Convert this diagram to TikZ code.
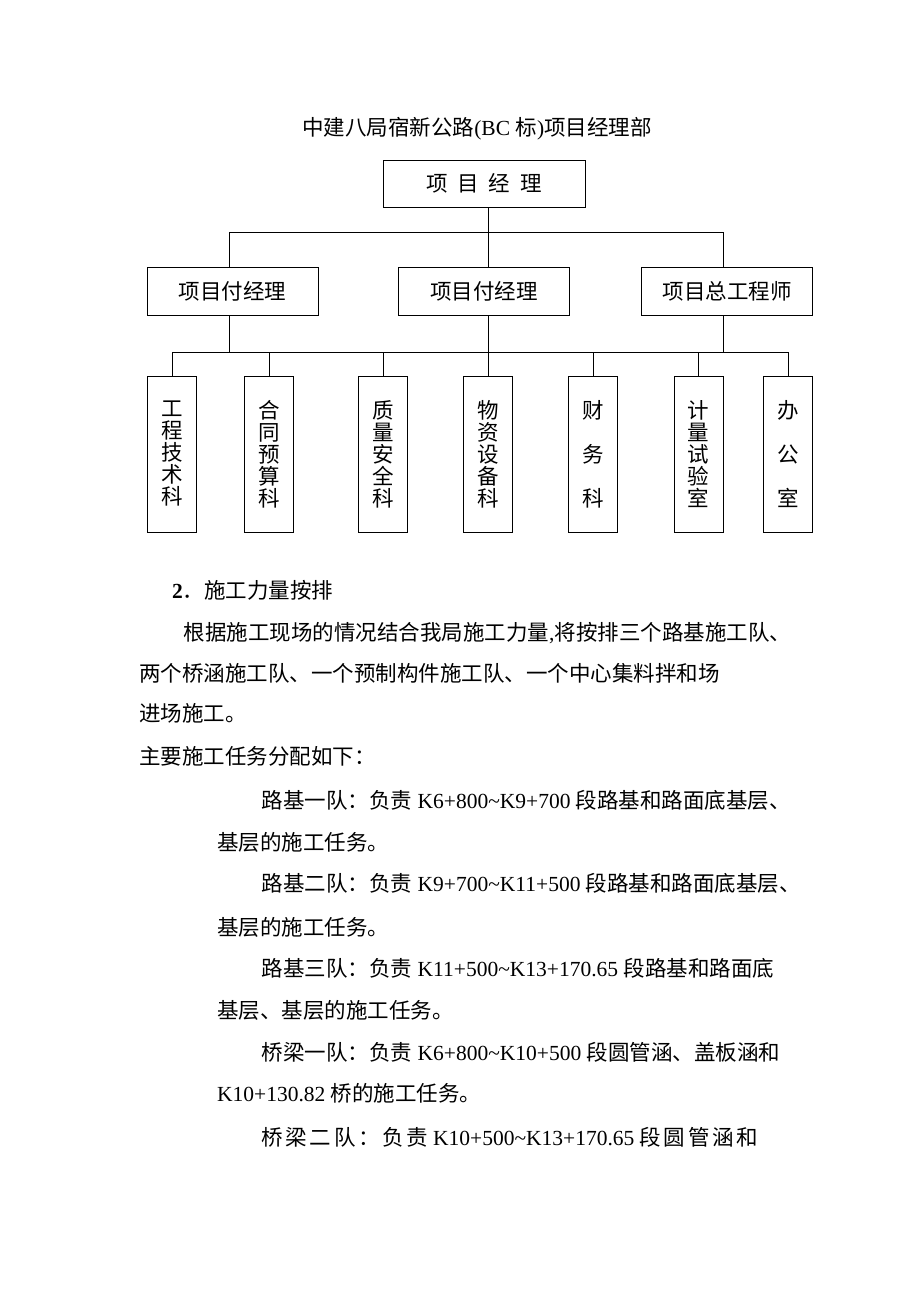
\documentclass[tikz,border=0pt]{standalone}
\usepackage{fontspec}
\setmainfont{Liberation Serif}
\newfontfamily\cjk{Noto Sans CJK SC}
\newfontfamily\cjkw[LetterSpace=12]{Noto Sans CJK SC}
\newcommand\lat[1]{{\rmfamily #1}}
\newcommand\fsz{\fontsize{21.5}{22}\selectfont}
\tikzset{
  txt/.style={anchor=base west, inner sep=0pt, font=\cjk\fsz},
  hbox/.style={draw, line width=1pt, minimum width=171pt, minimum height=48pt, inner sep=0pt, font=\cjk\fsz},
  vbox/.style={draw, line width=1pt, minimum width=49pt, minimum height=156pt, inner sep=0pt, align=center, font=\cjk\fsz},
  conn/.style={line width=1pt},
}
\begin{document}
\begin{tikzpicture}[x=1pt,y=-1pt]
\fill[white] (0,0) rectangle (920,1302);
\useasboundingbox (0,0) rectangle (920,1302);
% title
\node[anchor=base, inner sep=0pt, font=\cjk\fsz] (title) at (477,135) {中建八局宿新公路\lat{(BC }标\lat{)}项目经理部};
% boxes
\node[hbox, minimum width=202pt, minimum height=47pt] (pm) at (484,183.5) {项\hskip10pt 目\hskip10pt 经\hskip10pt 理};
\node[hbox] (p1) at (232.5,291.5) {项目付经理};
\node[hbox] (p2) at (484,291.5) {项目付经理};
\node[hbox] (p3) at (727,291.5) {项目总工程师};
\node[vbox] (d1) at (172,454) {工\\程\\技\\术\\科};
\node[vbox] (d2) at (269,454) {合\\同\\预\\算\\科};
\node[vbox] (d3) at (383,454) {质\\量\\安\\全\\科};
\node[vbox] (d4) at (488,454) {物\\资\\设\\备\\科};
\node[vbox] (d5) at (593,454) {财\\[22pt]务\\[22pt]科};
\node[vbox] (d6) at (698.5,454) {计\\量\\试\\验\\室};
\node[vbox] (d7) at (788,454) {办\\[22pt]公\\[22pt]室};
% connector helpers
\coordinate (xa) at (229,0);
\coordinate (xm) at (488,0);
\coordinate (xc) at (723,0);
\coordinate (bus1) at (0,232);
\coordinate (bus2) at (0,352);
\draw[conn] (pm.south -| xm) -- (p2.north -| xm);
\draw[conn] (p1.north -| xa) -- (xa |- bus1) -- (xc |- bus1) -- (p3.north -| xc);
\draw[conn] (p1.south -| xa) -- (xa |- bus2);
\draw[conn] (p3.south -| xc) -- (xc |- bus2);
\draw[conn] (p2.south -| xm) -- (d4.north);
\draw[conn] (d1.north) -- (d1.north |- bus2) -- (d7.north |- bus2) -- (d7.north);
\foreach \d in {d2,d3,d5,d6} \draw[conn] (\d.north) -- (\d.north |- bus2);
% body text
\node[txt] (h2) at (172,598) {\lat{\bfseries 2}．施工力量按排};
\node[txt] (t1) at (183.5,640) {根据施工现场的情况结合我局施工力量\lat{,}将按排三个路基施工队、};
\node[txt] (t2) at (139,681) {两个桥涵施工队、一个预制构件施工队、一个中心集料拌和场};
\node[txt] (t3) at (139,721) {进场施工。};
\node[txt] (t4) at (139,764) {主要施工任务分配如下：};
\node[txt] (t5) at (261.6,808) {路基一队：负责\lat{ K6+800\textasciitilde K9+700 }段路基和路面底基层、};
\node[txt] (t6) at (217,850) {基层的施工任务。};
\node[txt] (t7) at (261.6,891) {路基二队：负责\lat{ K9+700\textasciitilde K11+500 }段路基和路面底基层、};
\node[txt] (t8) at (217,935) {基层的施工任务。};
\node[txt] (t9) at (261.6,976) {路基三队：负责\lat{ K11+500\textasciitilde K13+170.65 }段路基和路面底};
\node[txt] (t10) at (217,1018) {基层、基层的施工任务。};
\node[txt] (t11) at (261.6,1060) {桥梁一队：负责\lat{ K6+800\textasciitilde K10+500 }段圆管涵、盖板涵和};
\node[txt] (t12) at (217,1101) {\lat{K10+130.82 }桥的施工任务。};
\node[txt] (t13) at (261.6,1145) {{\cjkw 桥梁二队：负责}\lat{ K10+500\textasciitilde K13+170.65 }{\cjkw 段圆管涵和}};
\end{tikzpicture}
\end{document}
